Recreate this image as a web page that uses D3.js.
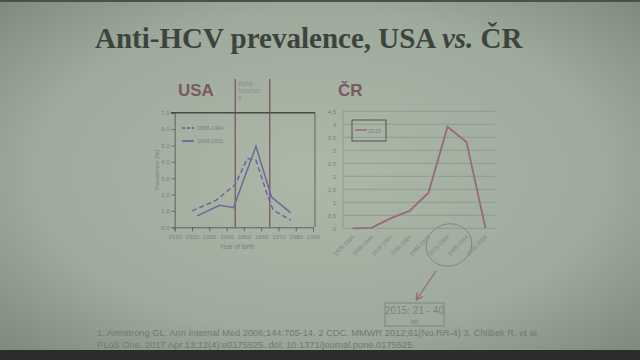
<!DOCTYPE html>
<html><head><meta charset="utf-8">
<script src="https://cdn.jsdelivr.net/npm/d3@7"></script>
<style>html,body{margin:0;padding:0;background:#000;}svg{display:block;}</style>
</head><body>
<svg id="c" width="640" height="360"></svg>
<script>
// ---- data ----
const usaYears = [1910,1920,1930,1940,1950,1960,1970,1980,1990];
const usaYTicks = [0,1,2,3,4,5,6,7];
const series8894Years = [1920,1934,1945,1952,1957,1964,1967,1977];
const series8894Values = [1.0,1.65,2.6,4.2,4.1,1.85,1.05,0.45];
const series9902Years = [1923,1936,1944,1957,1966,1977];
const series9902Values = [0.7,1.35,1.2,4.95,1.85,0.9];
const boomerYears = [1945,1965];
const usaLegend = ["1988-1994","1999-2002"];
const crCategories = ["1925-1934","1935-1944","1945-1954","1955-1964","1965-1974","1975-1984","1985-1994","1995-2004"];
const crValues = [0,0.02,0.38,0.67,1.37,3.9,3.32,0];
const crYTicks = [0,0.5,1,1.5,2,2.5,3,3.5,4,4.5];
const crSeriesName = "2015";

const svg = d3.select("#c");
const defs = svg.append("defs");
const rg = defs.append("radialGradient").attr("id","bg").attr("cx","50%").attr("cy","48%").attr("r","75%");
rg.append("stop").attr("offset","0%").attr("stop-color","#adb8a9");
rg.append("stop").attr("offset","60%").attr("stop-color","#9eaa9b");
rg.append("stop").attr("offset","100%").attr("stop-color","#778377");
svg.append("rect").attr("width",640).attr("height",360).attr("fill","url(#bg)");
svg.append("rect").attr("x",0).attr("y",350).attr("width",640).attr("height",10).attr("fill","#2b2d2b");
svg.append("rect").attr("x",0).attr("y",0).attr("width",640).attr("height",2).attr("fill","#4a504a");

// title
const title = svg.append("text").attr("x",95).attr("y",48)
  .attr("font-family","'Liberation Serif','Times New Roman',serif").attr("font-weight","bold")
  .attr("font-size",29).attr("fill","#3d433d");
title.append("tspan").text("Anti-HCV prevalence, USA ");
title.append("tspan").attr("font-style","italic").text("vs.");
title.append("tspan").text(" ČR");

const labelColor = "#7b5862";
svg.append("text").attr("x",178).attr("y",96).attr("font-family","'Liberation Sans',Arial,sans-serif")
  .attr("font-weight","bold").attr("font-size",17).attr("fill",labelColor).text("USA");
svg.append("text").attr("x",338).attr("y",96).attr("font-family","'Liberation Sans',Arial,sans-serif")
  .attr("font-weight","bold").attr("font-size",17).attr("fill",labelColor).text("ČR");

// ---- USA chart ----
const ux = d3.scaleLinear().domain([1910,1990]).range([174.7,313]);
const uy = d3.scaleLinear().domain([0,7]).range([227.3,112.7]);
const axCol = "#5d655d", txtCol = "#7a827a";
const gxa = svg.append("g").attr("transform","translate(0,227.3)")
  .call(d3.axisBottom(ux).tickValues(usaYears).tickFormat(d3.format("d")).tickSize(4).tickPadding(3));
const gya = svg.append("g").attr("transform","translate(174.7,0)")
  .call(d3.axisLeft(uy).tickValues(usaYTicks).tickFormat(d3.format(".1f")).tickSize(3).tickPadding(2));
[gxa,gya].forEach(g=>{
  g.selectAll("path,line").attr("stroke",axCol).attr("stroke-width",1);
  g.selectAll("text").attr("fill",txtCol).attr("font-size",6).attr("font-family","'Liberation Sans Narrow','Liberation Sans',sans-serif");
});
svg.append("line").attr("x1",171).attr("x2",315).attr("y1",uy(7)).attr("y2",uy(7)).attr("stroke","#454b45").attr("stroke-width",1.6);
svg.append("line").attr("x1",315).attr("x2",315).attr("y1",uy(7)).attr("y2",uy(0)).attr("stroke","#5d655d").attr("stroke-width",1);
svg.selectAll("line.bb").data(boomerYears).enter().append("line").attr("class","bb")
  .attr("x1",d=>ux(d)).attr("x2",d=>ux(d)).attr("y1",79).attr("y2",uy(0))
  .attr("stroke","#6e4a52").attr("stroke-width",1.1);
const bb = svg.append("text").attr("font-family","'Liberation Sans',sans-serif").attr("font-size",6.5).attr("fill","#8a928a");
["Baby","boomer","s"].forEach((t,i)=>bb.append("tspan").attr("x",ux(1945)+3).attr("y",86+i*7).text(t));

const lineCol = "#6c6898";
const uline = d3.line().x(d=>ux(d[0])).y(d=>uy(d[1]));
svg.append("path").datum(series8894Years.map((y,i)=>[y,series8894Values[i]]))
  .attr("d",uline).attr("fill","none").attr("stroke",lineCol).attr("stroke-width",1.5).attr("stroke-dasharray","5,3");
svg.append("path").datum(series9902Years.map((y,i)=>[y,series9902Values[i]]))
  .attr("d",uline).attr("fill","none").attr("stroke",lineCol).attr("stroke-width",1.5);
usaLegend.forEach((t,i)=>{
  const yy = 128 + i*13;
  svg.append("line").attr("x1",182).attr("x2",194).attr("y1",yy).attr("y2",yy).attr("stroke",lineCol)
    .attr("stroke-width",1.8).attr("stroke-dasharray",i===0?"3,2":null);
  svg.append("text").attr("x",197).attr("y",yy+2).attr("font-size",5.5).attr("fill",txtCol)
    .attr("font-family","'Liberation Sans',sans-serif").text(t);
});
svg.append("text").attr("transform","translate(159,170) rotate(-90)").attr("text-anchor","middle")
  .attr("font-size",6).attr("fill",txtCol).attr("font-family","'Liberation Sans',sans-serif").text("Prevalence (%)");
svg.append("text").attr("x",237).attr("y",249).attr("text-anchor","middle")
  .attr("font-size",6.5).attr("fill",txtCol).attr("font-family","'Liberation Sans',sans-serif").text("Year of birth");

// ---- CR chart ----
const cx = d3.scaleBand().domain(crCategories).range([343,495]);
const cy = d3.scaleLinear().domain([0,4.5]).range([228.3,111.3]);
svg.append("g").selectAll("line").data(crYTicks).enter().append("line")
  .attr("x1",343).attr("x2",495).attr("y1",d=>cy(d)).attr("y2",d=>cy(d))
  .attr("stroke","#8c958c").attr("stroke-width",0.8);
svg.append("line").attr("x1",343).attr("x2",343).attr("y1",cy(4.5)).attr("y2",cy(0)).attr("stroke","#8c958c").attr("stroke-width",0.8);
const gcy = svg.append("g").attr("transform","translate(343,0)")
  .call(d3.axisLeft(cy).tickValues(crYTicks).tickFormat(d=>String(d).replace(".",",")).tickSize(0).tickPadding(7));
gcy.select(".domain").remove();
gcy.selectAll("text").attr("fill",txtCol).attr("font-size",6).attr("font-family","'Liberation Sans Narrow','Liberation Sans',sans-serif");
const gcx = svg.append("g").attr("transform","translate(0,228.3)")
  .call(d3.axisBottom(cx).tickSize(0).tickPadding(0));
gcx.select(".domain").remove();
gcx.selectAll("text").attr("fill",txtCol).attr("font-size",5.5).attr("font-family","'Liberation Sans Narrow','Liberation Sans',sans-serif")
  .attr("text-anchor","end").attr("dy","0").attr("transform","translate(2,9) rotate(-45)");
const crCol = "#99687a";
svg.append("path").datum(crValues.map((v,i)=>[crCategories[i],v]))
  .attr("d",d3.line().x(d=>cx(d[0])+cx.bandwidth()/2).y(d=>cy(d[1])))
  .attr("fill","none").attr("stroke",crCol).attr("stroke-width",1.8);
svg.append("rect").attr("x",352).attr("y",120).attr("width",34).attr("height",21)
  .attr("fill","none").attr("stroke","#4f564f").attr("stroke-width",1);
svg.append("line").attr("x1",355).attr("x2",367).attr("y1",130).attr("y2",130).attr("stroke",crCol).attr("stroke-width",1.5);
svg.append("text").attr("x",368).attr("y",132.5).attr("font-size",6).attr("fill",txtCol)
  .attr("font-family","'Liberation Sans',sans-serif").text(crSeriesName);

svg.append("ellipse").attr("cx",449).attr("cy",245).attr("rx",23).attr("ry",21)
  .attr("transform","rotate(-20,449,245)")
  .attr("fill","none").attr("stroke","#7f887f").attr("stroke-width",0.9);
defs.append("marker").attr("id","ah").attr("viewBox","0 0 10 10").attr("refX",8).attr("refY",5)
  .attr("markerWidth",6).attr("markerHeight",6).attr("orient","auto")
  .append("path").attr("d","M0,0 L10,5 L0,10").attr("fill","none").attr("stroke",crCol).attr("stroke-width",1.8);
svg.append("line").attr("x1",436).attr("y1",271).attr("x2",417).attr("y2",299)
  .attr("stroke",crCol).attr("stroke-width",1.3).attr("marker-end","url(#ah)");
svg.append("rect").attr("x",385).attr("y",303).attr("width",59).attr("height",23)
  .attr("fill","none").attr("stroke","#7f887f").attr("stroke-width",1);
svg.append("text").attr("x",414.5).attr("y",314).attr("text-anchor","middle").attr("font-size",10)
  .attr("fill","#7c847c").attr("font-family","'Liberation Sans Narrow','Liberation Sans',sans-serif").text("2015: 21 - 40");
svg.append("text").attr("x",414.5).attr("y",323.5).attr("text-anchor","middle").attr("font-size",7.5)
  .attr("fill","#7c847c").attr("font-family","'Liberation Sans',sans-serif").text("let");

const fn = ["1. Armstrong GL. Ann Internal Med 2006;144:705-14. 2 CDC. MMWR 2012;61(No.RR-4) 3. Chlibek R. et al.",
            "PLoS One. 2017 Apr 13;12(4):e0175525. doi: 10.1371/journal.pone.0175525."];
fn.forEach((t,i)=>svg.append("text").attr("x",97).attr("y",336+i*11.5).attr("font-size",9.3)
  .attr("fill","#717a71").attr("font-family","'Liberation Sans',Arial,sans-serif").text(t));
</script>
</body></html>
